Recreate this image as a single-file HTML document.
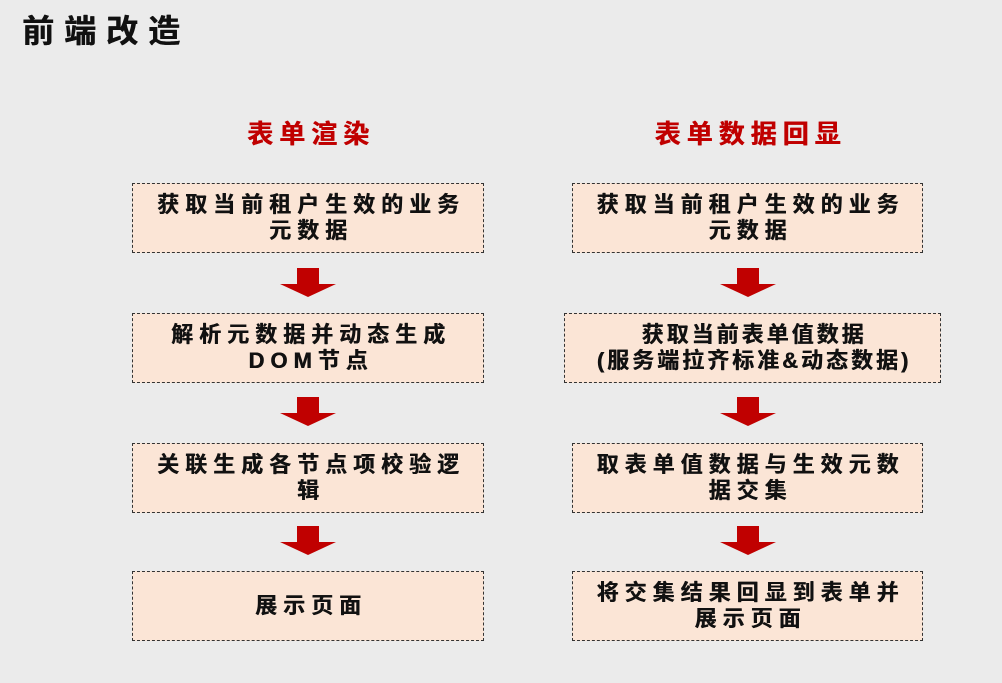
<!DOCTYPE html>
<html><head><meta charset="utf-8"><style>
body{margin:0;width:1002px;height:683px;background:#ebebeb;position:relative;overflow:hidden;font-family:"Liberation Sans","Noto Sans CJK SC",sans-serif;font-weight:bold}
.t{position:absolute;left:22px;top:6px;font-size:32px;letter-spacing:10px;color:#111;text-shadow:0.6px 0 0 #111}
.h{position:absolute;font-size:26px;letter-spacing:6px;color:#c00000;top:114px;text-align:center;padding-left:6px;box-sizing:border-box;text-shadow:0.6px 0 0 #c00000}
.b{position:absolute;background:#fbe5d6;border:1.5px dashed #333;box-sizing:border-box;display:flex;align-items:center;justify-content:center;text-align:center;font-size:22px;letter-spacing:6px;padding-left:6px;line-height:26px;color:#111;text-shadow:0.5px 0 0 #111}
</style></head><body>
<div class="t">前端改造</div>
<div class="h" style="left:132px;width:352px">表单渲染</div>
<div class="h" style="left:572px;width:351px">表单数据回显</div>

<div class="b" style="left:132px;top:183px;width:352px;height:70px">获取当前租户生效的业务<br>元数据</div>
<div class="b" style="left:132px;top:313px;width:352px;height:70px">解析元数据并动态生成<br>DOM节点</div>
<div class="b" style="left:132px;top:443px;width:352px;height:70px">关联生成各节点项校验逻<br>辑</div>
<div class="b" style="left:132px;top:571px;width:352px;height:70px">展示页面</div>

<div class="b" style="left:572px;top:183px;width:351px;height:70px">获取当前租户生效的业务<br>元数据</div>
<div class="b" style="left:564px;top:313px;width:377px;height:70px;letter-spacing:3px;padding-left:3px">获取当前表单值数据<br>(服务端拉齐标准&amp;动态数据)</div>
<div class="b" style="left:572px;top:443px;width:351px;height:70px">取表单值数据与生效元数<br>据交集</div>
<div class="b" style="left:572px;top:571px;width:351px;height:70px">将交集结果回显到表单并<br>展示页面</div>

<svg width="1002" height="683" style="position:absolute;left:0;top:0">
<defs><path id="ar" d="M-11,0H11V16H28L0,29L-28,16H-11Z" fill="#c00000"/></defs>
<use href="#ar" x="308" y="268"/>
<use href="#ar" x="308" y="397"/>
<use href="#ar" x="308" y="526"/>
<use href="#ar" x="748" y="268"/>
<use href="#ar" x="748" y="397"/>
<use href="#ar" x="748" y="526"/>
</svg>
</body></html>
